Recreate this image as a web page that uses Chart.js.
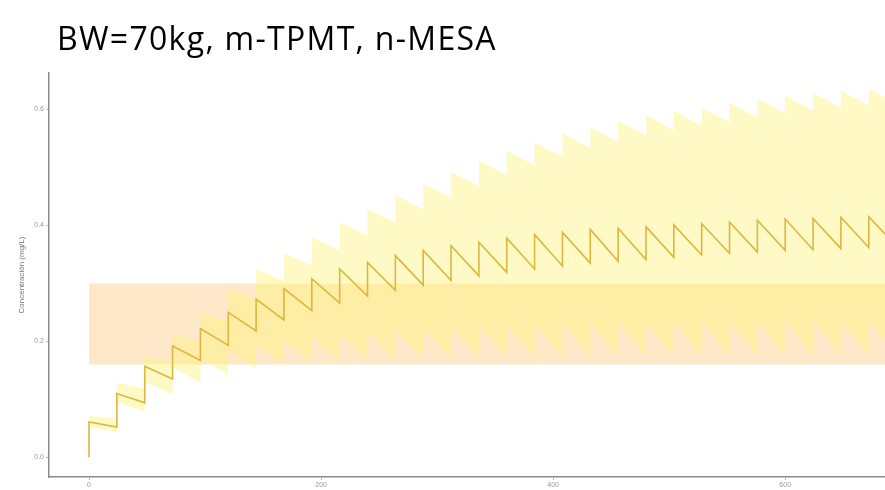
<!DOCTYPE html>
<html>
<head>
<meta charset="utf-8">
<title>BW=70kg, m-TPMT, n-MESA</title>
<style>
body { margin: 0; background: #fff; }
#wrap { position: relative; width: 885px; height: 490px; }
#title {
  position: absolute; left: 57px; top: 22px;
  font-family: "Open Sans", sans-serif; font-size: 32px; line-height: 32px;
  letter-spacing: 1.3px; color: #000; white-space: nowrap;
}
#c { position: absolute; left: 0; top: 0; }
</style>
<script src="https://cdn.jsdelivr.net/npm/chart.js@4"></script>
</head>
<body>
<div id="wrap">
  <canvas id="c" width="885" height="490"></canvas>
  <div id="title">BW=70kg, m-TPMT, n-MESA</div>
</div>

<script>
// dosing times (h) and concentrations (mg/L)
var doseTimes = [0,24,48,72,96,120,144,168,192,216,240,264,288,312,336,360,384,408,432,456,480,504,528,552,576,600,624,648,672];
var nextTimes = [24,48,72,96,120,144,168,192,216,240,264,288,312,336,360,384,408,432,456,480,504,528,552,576,600,624,648,672,696];

// median profile: value right after each dose, and just before the next one
var linePeak   = [0.061,0.110,0.157,0.192,0.222,0.250,0.273,0.291,0.308,0.325,0.336,0.348,0.357,0.365,0.371,0.378,0.384,0.388,0.393,0.395,0.398,0.401,0.403,0.406,0.409,0.411,0.412,0.414,0.415];
var lineTrough = [0.052,0.094,0.135,0.167,0.193,0.218,0.237,0.253,0.266,0.278,0.288,0.297,0.305,0.313,0.319,0.325,0.330,0.335,0.338,0.341,0.345,0.349,0.352,0.354,0.357,0.358,0.360,0.362,0.364];

// prediction band
var upperPeak   = [0.072,0.128,0.175,0.212,0.250,0.290,0.325,0.352,0.379,0.405,0.428,0.452,0.472,0.492,0.512,0.529,0.543,0.559,0.569,0.581,0.590,0.598,0.603,0.612,0.619,0.624,0.629,0.633,0.636];
var upperTrough = [0.066,0.118,0.163,0.198,0.234,0.272,0.304,0.331,0.357,0.382,0.405,0.428,0.448,0.468,0.487,0.504,0.519,0.533,0.544,0.555,0.564,0.572,0.578,0.586,0.593,0.598,0.603,0.607,0.611];
var lowerPeak   = [0.052,0.095,0.130,0.155,0.172,0.185,0.195,0.202,0.208,0.213,0.217,0.220,0.223,0.225,0.227,0.228,0.229,0.230,0.231,0.232,0.232,0.233,0.233,0.234,0.234,0.235,0.235,0.236,0.236];
var lowerTrough = [0.044,0.079,0.108,0.128,0.142,0.152,0.159,0.163,0.166,0.168,0.169,0.170,0.171,0.171,0.172,0.172,0.172,0.173,0.173,0.173,0.173,0.174,0.174,0.174,0.174,0.174,0.175,0.175,0.175];

// therapeutic window
var targetLow  = 0.16;
var targetHigh = 0.30;
var targetSpan = [0, 720];

var xTicks = [0, 200, 400, 600];
var yTicks = [0.0, 0.2, 0.4, 0.6];

// build sawtooth point lists (vertical jump at each dose)
function saw(peaks, troughs) {
  var pts = [];
  for (var i = 0; i < doseTimes.length; i++) {
    pts.push({x: doseTimes[i], y: i == 0 ? 0 : troughs[i-1]});
    pts.push({x: doseTimes[i], y: peaks[i]});
  }
  pts.push({x: nextTimes[nextTimes.length-1], y: troughs[troughs.length-1]});
  return pts;
}

var linePts  = saw(linePeak, lineTrough);
var upperPts = saw(upperPeak, upperTrough);
var lowerPts = saw(lowerPeak, lowerTrough);
upperPts[0].y = lowerPts[1].y;   // band starts at the first dose
lowerPts[0].y = lowerPts[1].y;

var tickFont = {family: "Liberation Sans", size: 7};

new Chart(document.getElementById("c"), {
  type: "line",
  data: {
    datasets: [
      { data: linePts, borderColor: "#ddb63e", borderWidth: 1.6, pointRadius: 0, fill: false },
      { data: lowerPts, borderWidth: 0, borderColor: "rgba(0,0,0,0)", pointRadius: 0, fill: false },
      { data: upperPts, borderWidth: 0, borderColor: "rgba(0,0,0,0)", pointRadius: 0,
        fill: "-1", backgroundColor: "rgba(255,243,110,0.40)" },
      { data: targetSpan.map(function (x) { return {x: x, y: targetLow}; }),
        borderWidth: 0, borderColor: "rgba(0,0,0,0)", pointRadius: 0, fill: false },
      { data: targetSpan.map(function (x) { return {x: x, y: targetHigh}; }),
        borderWidth: 0, borderColor: "rgba(0,0,0,0)", pointRadius: 0,
        fill: "-1", backgroundColor: "rgba(250,200,120,0.40)" }
    ]
  },
  options: {
    responsive: false,
    animation: false,
    layout: { padding: { top: 73, right: 0, left: 0, bottom: 0 } },
    plugins: { legend: { display: false }, tooltip: { enabled: false } },
    elements: { line: { tension: 0 } },
    scales: {
      x: {
        type: "linear", min: -34.5, max: 686,
        afterBuildTicks: function (s) { s.ticks = xTicks.map(function (v) { return {value: v}; }); },
        afterFit: function (s) { s.height = 13; },
        ticks: { font: tickFont, color: "#999", padding: 1, maxRotation: 0 },
        grid: { drawOnChartArea: false, tickLength: 3, color: "#bbb" },
        border: { color: "#8c8c8c", width: 1.5 }
      },
      y: {
        min: -0.034, max: 0.663,
        afterBuildTicks: function (s) { s.ticks = yTicks.map(function (v) { return {value: v}; }); },
        afterFit: function (s) { s.width = 49; },
        ticks: { font: tickFont, color: "#999", padding: 2,
                 callback: function (v) { return v.toFixed(1); } },
        title: { display: true, text: "Concentración (mg/L)", color: "#777",
                 font: {family: "Liberation Sans", size: 8}, padding: {top: 17, bottom: 0} },
        grid: { drawOnChartArea: false, tickLength: 3, color: "#bbb" },
        border: { color: "#8c8c8c", width: 1.5 }
      }
    }
  }
});
</script>
</body>
</html>
